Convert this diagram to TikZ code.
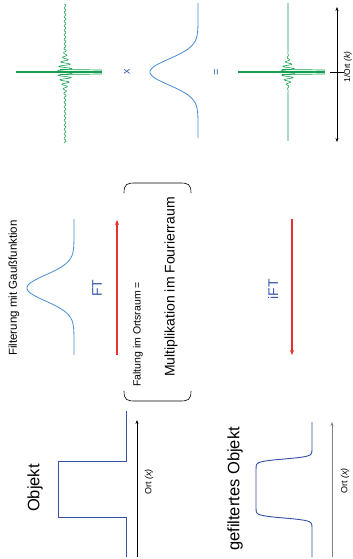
\documentclass[tikz,border=0pt]{standalone}
\usepackage{fontspec}
\setmainfont{Liberation Sans}
\usetikzlibrary{arrows.meta}
\definecolor{sig}{RGB}{20,160,80}
\definecolor{gauss}{RGB}{70,140,210}
\definecolor{obj}{RGB}{50,80,165}
\definecolor{arr}{RGB}{232,48,48}
\definecolor{lbl}{RGB}{60,90,170}
\tikzset{
  txt/.style={rotate=90, inner sep=0pt, font=\fontsize{10}{12}\selectfont},
  big/.style={rotate=90, inner sep=0pt, font=\fontsize{16.5}{19}\selectfont},
  ftlbl/.style={rotate=90, inner sep=0pt, text=lbl, font=\fontsize{14}{16}\selectfont},
  opsym/.style={rotate=90, inner sep=0pt, text=lbl, font=\fontsize{11}{13}\selectfont},
  axis/.style={line width=0.6pt, -{Stealth[length=4pt,width=3pt]}},
  ftarrow/.style={arr, line width=1.3pt, -{Stealth[length=5pt,width=4pt]}},
  sigline/.style={sig, line width=0.6pt},
  gline/.style={gauss, line width=0.8pt},
  oline/.style={obj, line width=0.9pt},
  brk/.style={black, line width=0.6pt}
}
\begin{document}
\begin{tikzpicture}[x=1pt,y=-1pt]
\useasboundingbox (0,0) rectangle (353,559);
% ---- object (left bottom)
\draw[oline] (126,411) -- (126,461) -- (58,461) -- (58,517) -- (126,517) -- (126,557);
\node[big] (objekt) at (35,488) {Objekt};
\coordinate (ax1s) at (137,557); \coordinate (ax1e) at (137,420);
\draw[axis] (ax1s) -- (ax1e);
\node[txt, font=\fontsize{9}{11}\selectfont] (ort1) at (149,482) {Ort \textit{(x)}};
% ---- filter gaussian (left middle)
\draw[gline] plot[domain=219:355, samples=200, variable=\t] ({74-47*exp(max(-9,-0.5*((\t-288)/13)^2))}, \t);
\node[txt, font=\fontsize{11.5}{13}\selectfont] (filt) at (14,288) {Filterung mit Gaußfunktion};
% ---- FT arrow
\coordinate (fts) at (117,355); \coordinate (fte) at (117,220);
\draw[ftarrow] (fts) -- (fte);
\node[ftlbl] (ft) at (97,288) {FT};
% ---- bracket with text
\draw[brk] (124,193) .. controls (124,184) and (127,183) .. (135,183) -- (180,183) .. controls (188,183) and (191,184) .. (191,193);
\draw[brk] (124,391) .. controls (124,400) and (127,401) .. (135,401) -- (180,401) .. controls (188,401) and (191,400) .. (191,391);
\node[txt, anchor=west, font=\fontsize{10.5}{12}\selectfont] (falt) at (138,387) {Faltung im Ortsraum =};
\node[txt, anchor=west, font=\fontsize{14}{16}\selectfont] (mult) at (171,377) {Multiplikation im Fourierraum};
% ---- spectrum of object (top left)
\draw[sigline] plot[domain=4:143, samples=700, variable=\t] ({65+(0.9+6.5*exp(max(-9,-1*((\t-72)/12)^2)))*sin(80*(\t-72))}, \t);
\draw[sig, line width=1.3pt] (16,72) -- (102,72);
\draw[sig, line width=0.7pt] (60,69.5) -- (102,70);
\draw[sig, line width=0.7pt] (60,74.5) -- (102,74);
\node[opsym] (times) at (127,72) {x};
% ---- gaussian in Fourier space
\draw[gline] plot[domain=3:138, samples=200, variable=\t] ({198-48*exp(max(-9,-0.5*((\t-72)/13)^2))}, \t);
\node[opsym] (eq) at (217,72) {=};
% ---- filtered spectrum (top right)
\draw[sigline] plot[domain=3:141, samples=700, variable=\t] ({288+7*exp(max(-9,-1*((\t-72)/10)^2))*sin(80*(\t-72))}, \t);
\draw[sig, line width=1.3pt] (238,72) -- (325,72);
\draw[sig, line width=0.7pt] (282,69.5) -- (325,70);
\draw[sig, line width=0.7pt] (282,74.5) -- (325,74);
% ---- k axis
\coordinate (kas) at (337,142); \coordinate (kae) at (337,7);
\draw[line width=0.6pt, {Stealth[length=4pt,width=3pt]}-{Stealth[length=4pt,width=3pt]}] (kas) -- (kae);
\coordinate (tk1) at (330,72); \coordinate (tk2) at (344,72);
\draw[line width=0.8pt] (tk1) -- (tk2);
\node[txt, font=\fontsize{8.5}{10}\selectfont] (kl) at (348,67) {1/Ort \textit{(k)}};
% ---- iFT arrow
\coordinate (ifs) at (292,219); \coordinate (ife) at (292,355);
\draw[ftarrow] (ifs) -- (ife);
\node[ftlbl] (ift) at (273,289) {iFT};
% ---- filtered object (right bottom)
\draw[oline] plot[domain=422:557, samples=300, variable=\t] ({312-56*(1/(1+exp(max(-9,min(9,-(\t-459)/1.25))))-1/(1+exp(max(-9,min(9,-(\t-518)/1.25)))))}, \t);
\node[big] (gobj) at (235,489) {gefiltertes Objekt};
\coordinate (ax2s) at (332,557); \coordinate (ax2e) at (332,422);
\draw[axis, gray] (ax2s) -- (ax2e);
\node[txt, font=\fontsize{9}{11}\selectfont] (ort2) at (345,481) {Ort \textit{(x)}};
\end{tikzpicture}
\end{document}
